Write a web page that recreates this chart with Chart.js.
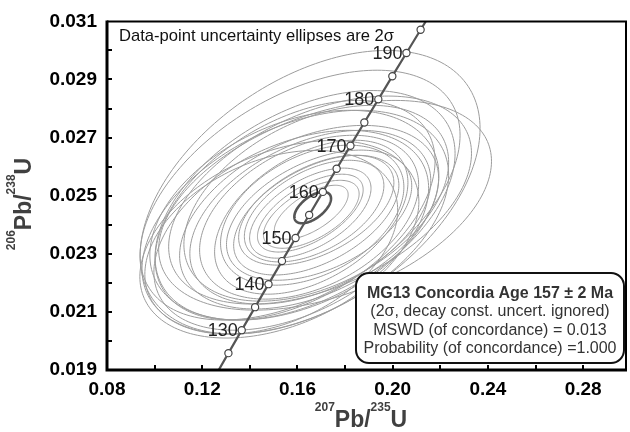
<!DOCTYPE html>
<html>
<head>
<meta charset="utf-8">
<script src="https://cdn.jsdelivr.net/npm/chart.js@4.4.1/dist/chart.umd.min.js"></script>
<style>
  html, body { margin: 0; padding: 0; background: #ffffff; }
  #wrap { width: 630px; height: 432px; }
</style>
</head>
<body>
<div id="wrap"><canvas id="c" width="630" height="432"></canvas></div>
<script>
// ---------- data ----------
// data-point 2-sigma ellipses: 207Pb/235U, 206Pb/238U, 2s half-extents, error correlation
const ellipseX    = [0.1653, 0.1716, 0.1695, 0.1679, 0.1587, 0.1654, 0.1649, 0.1658, 0.1649, 0.1654, 0.1654, 0.1658, 0.1670, 0.1679, 0.1658, 0.1691, 0.1679, 0.1662, 0.1524, 0.1490, 0.1574, 0.1591, 0.1611, 0.1632, 0.1590];
const ellipseY    = [0.02512, 0.02467, 0.02485, 0.02474, 0.02433, 0.02426, 0.02426, 0.02426, 0.02426, 0.02440, 0.02440, 0.02436, 0.02447, 0.02450, 0.02443, 0.02433, 0.02433, 0.02433, 0.02350, 0.02340, 0.02381, 0.02409, 0.02502, 0.02467, 0.02450];
const ellipseErrX = [0.0714, 0.0699, 0.0636, 0.0556, 0.0607, 0.0506, 0.0460, 0.0406, 0.0544, 0.0255, 0.0222, 0.0201, 0.0293, 0.0326, 0.0155, 0.0389, 0.0347, 0.0385, 0.0586, 0.0531, 0.0577, 0.0644, 0.0672, 0.0630, 0.0588];
const ellipseErrY = [0.00488, 0.00361, 0.00358, 0.00337, 0.00361, 0.00299, 0.00282, 0.00265, 0.00316, 0.00155, 0.00134, 0.00117, 0.00175, 0.00189, 0.00093, 0.00224, 0.00206, 0.00241, 0.00340, 0.00316, 0.00344, 0.00385, 0.00430, 0.00395, 0.00378];
const ellipseRho  = [0.45, 0.42, 0.45, 0.42, 0.38, 0.42, 0.40, 0.45, 0.42, 0.55, 0.60, 0.60, 0.50, 0.50, 0.65, 0.45, 0.50, 0.40, 0.38, 0.35, 0.42, 0.42, 0.48, 0.45, 0.45];

// concordia age ellipse (157 Ma)
const ageEllipseX = 0.1664, ageEllipseY = 0.02459, ageEllipseErrX = 0.0077, ageEllipseErrY = 0.00054, ageEllipseRho = 0.58;

// concordia curve points (Ma)
const concordiaAges = [120, 125, 130, 135, 140, 145, 150, 155, 160, 165, 170, 175, 180, 185, 190, 195, 200];
const concordiaX = [0.12545, 0.13100, 0.13659, 0.14220, 0.14784, 0.15350, 0.15920, 0.16492, 0.17067, 0.17645, 0.18226, 0.18809, 0.19396, 0.19985, 0.20577, 0.21173, 0.21771];
const concordiaY = [0.018789, 0.019580, 0.020371, 0.021163, 0.021955, 0.022748, 0.023542, 0.024335, 0.025131, 0.025926, 0.026722, 0.027519, 0.028316, 0.029114, 0.029913, 0.030712, 0.031511];
const markedAges = [125, 130, 135, 140, 145, 150, 155, 160, 165, 170, 175, 180, 185, 190, 195];
const labelledAges = [130, 140, 150, 160, 170, 180, 190];

// axes
const xTickValues = [0.08, 0.12, 0.16, 0.20, 0.24, 0.28];
const xTickLabels = ['0.08', '0.12', '0.16', '0.20', '0.24', '0.28'];
const xMinorTicks = [0.10, 0.12, 0.14, 0.16, 0.18, 0.20, 0.22, 0.24, 0.26, 0.28];
const yTickValues = [0.019, 0.021, 0.023, 0.025, 0.027, 0.029, 0.031];
const yTickLabels = ['0.019', '0.021', '0.023', '0.025', '0.027', '0.029', '0.031'];
const yMinorTicks = [0.020, 0.021, 0.022, 0.023, 0.024, 0.025, 0.026, 0.027, 0.028, 0.029, 0.030];

const noteText = 'Data-point uncertainty ellipses are 2\u03c3';
const boxLines = ['MG13 Concordia Age 157 \u00b1 2 Ma', '(2\u03c3, decay const. uncert. ignored)', 'MSWD (of concordance) = 0.013', 'Probability (of concordance) =1.000'];

// ---------- drawing helpers ----------
function drawEllipse(ctx, xs, ys, cx, cy, ex, ey, rho, color, width) {
  const phi = Math.acos(rho);
  ctx.beginPath();
  const n = 200;
  for (let k = 0; k <= n; k++) {
    const t = k / n * Math.PI * 2;
    const px = xs.getPixelForValue(cx + ex * Math.cos(t));
    const py = ys.getPixelForValue(cy + ey * Math.cos(t - phi));
    if (k === 0) ctx.moveTo(px, py); else ctx.lineTo(px, py);
  }
  ctx.closePath();
  ctx.strokeStyle = color;
  ctx.lineWidth = width;
  ctx.stroke();
}

function drawSupText(ctx, parts, cx, baseY, mainSize, supSize, supRise, color) {
  const mainFont = 'bold ' + mainSize + 'px "Liberation Sans", Arial, sans-serif';
  const supFont = 'bold ' + supSize + 'px "Liberation Sans", Arial, sans-serif';
  let total = 0;
  const widths = parts.map(p => { ctx.font = p[1] ? supFont : mainFont; const w = ctx.measureText(p[0]).width; total += w; return w; });
  let x = cx - total / 2;
  ctx.fillStyle = color;
  ctx.textAlign = 'left';
  ctx.textBaseline = 'alphabetic';
  parts.forEach((p, i) => {
    ctx.font = p[1] ? supFont : mainFont;
    ctx.fillText(p[0], x, p[1] ? baseY - supRise : baseY);
    x += widths[i];
  });
}

function roundRect(ctx, x, y, w, h, r) {
  ctx.beginPath();
  ctx.moveTo(x + r, y);
  ctx.lineTo(x + w - r, y);
  ctx.arcTo(x + w, y, x + w, y + r, r);
  ctx.lineTo(x + w, y + h - r);
  ctx.arcTo(x + w, y + h, x + w - r, y + h, r);
  ctx.lineTo(x + r, y + h);
  ctx.arcTo(x, y + h, x, y + h - r, r);
  ctx.lineTo(x, y + r);
  ctx.arcTo(x, y, x + r, y, r);
  ctx.closePath();
}

const concordiaPlugin = {
  id: 'concordiaExtras',
  beforeDatasetsDraw(chart) {
    const { ctx, chartArea: a, scales: { x, y } } = chart;
    ctx.save();
    ctx.beginPath();
    ctx.rect(a.left, a.top, a.right - a.left, a.bottom - a.top);
    ctx.clip();
    for (let i = 0; i < ellipseX.length; i++) {
      drawEllipse(ctx, x, y, ellipseX[i], ellipseY[i], ellipseErrX[i], ellipseErrY[i], ellipseRho[i], '#9c9c9c', 1);
    }
    drawEllipse(ctx, x, y, ageEllipseX, ageEllipseY, ageEllipseErrX, ageEllipseErrY, ageEllipseRho, '#555555', 2.6);
    ctx.restore();
  },
  afterDatasetsDraw(chart) {
    const { ctx, scales: { x, y } } = chart;
    ctx.save();
    ctx.font = '18px "Liberation Sans", Arial, sans-serif';
    ctx.fillStyle = '#222222';
    ctx.textAlign = 'right';
    ctx.textBaseline = 'middle';
    labelledAges.forEach(age => {
      const i = concordiaAges.indexOf(age);
      const px = x.getPixelForValue(concordiaX[i]);
      const py = y.getPixelForValue(concordiaY[i]);
      ctx.fillText(String(age), px - 4, py + 1);
    });
    ctx.restore();
  },
  afterDraw(chart) {
    const { ctx, chartArea: a, scales: { x, y } } = chart;
    ctx.save();
    // tick marks (inward)
    ctx.strokeStyle = '#000';
    ctx.lineWidth = 2;
    ctx.beginPath();
    yMinorTicks.forEach(v => { const py = Math.round(y.getPixelForValue(v)); ctx.moveTo(a.left, py); ctx.lineTo(a.left + 5, py); });
    xMinorTicks.forEach(v => { const px = Math.round(x.getPixelForValue(v)); ctx.moveTo(px, a.bottom); ctx.lineTo(px, a.bottom - 5); });
    ctx.stroke();
    // frame
    ctx.lineWidth = 2;
    ctx.beginPath();
    ctx.moveTo(a.left, a.top); ctx.lineTo(a.right, a.top); ctx.lineTo(a.right, a.bottom);
    ctx.stroke();
    ctx.lineWidth = 3;
    ctx.beginPath();
    ctx.moveTo(a.left, a.top - 1); ctx.lineTo(a.left, a.bottom); ctx.lineTo(a.right + 1, a.bottom);
    ctx.stroke();

    // note
    ctx.font = '16.6px "Liberation Sans", Arial, sans-serif';
    ctx.fillStyle = '#111';
    ctx.textAlign = 'left';
    ctx.textBaseline = 'alphabetic';
    ctx.fillText(noteText, a.left + 12, 41);

    // result box
    const bx = 356, by = 273, bw = 268, bh = 90;
    roundRect(ctx, bx, by, bw, bh, 13);
    ctx.fillStyle = '#ffffff';
    ctx.fill();
    ctx.lineWidth = 2;
    ctx.strokeStyle = '#111';
    ctx.stroke();
    ctx.fillStyle = '#333';
    ctx.textAlign = 'center';
    boxLines.forEach((t, i) => {
      ctx.font = (i === 0 ? 'bold ' : '') + '16px "Liberation Sans", Arial, sans-serif';
      ctx.fillText(t, bx + bw / 2, 297.5 + i * 18.5);
    });

    // axis titles
    drawSupText(ctx, [['207', true], ['Pb/', false], ['235', true], ['U', false]], 361, 427, 23, 12, 16, '#404040');
    ctx.translate(31, 204);
    ctx.rotate(-Math.PI / 2);
    drawSupText(ctx, [['206', true], ['Pb/', false], ['238', true], ['U', false]], 0, 0, 23, 12, 16, '#404040');
    ctx.restore();
  }
};

const lineData = concordiaAges.map((a, i) => ({ x: concordiaX[i], y: concordiaY[i] }));
const pointRadii = concordiaAges.map(a => markedAges.includes(a) ? 3.6 : 0);

new Chart(document.getElementById('c'), {
  type: 'scatter',
  data: {
    datasets: [{
      data: lineData,
      showLine: true,
      borderColor: '#555555',
      borderWidth: 2.2,
      pointRadius: pointRadii,
      pointBackgroundColor: '#ffffff',
      pointBorderColor: '#444444',
      pointBorderWidth: 1.2,
      tension: 0
    }]
  },
  options: {
    responsive: false,
    animation: false,
    layout: { padding: { top: 21, right: 4, left: 0, bottom: 0 } },
    plugins: { legend: { display: false }, tooltip: { enabled: false } },
    scales: {
      x: {
        type: 'linear',
        min: 0.08,
        max: 0.298,
        afterBuildTicks: s => { s.ticks = xTickValues.map(v => ({ value: v })); },
        afterFit: s => { s.height = 62; },
        grid: { display: false, drawTicks: false },
        border: { display: false },
        ticks: {
          autoSkip: false,
          maxRotation: 0,
          padding: 8,
          color: '#000',
          font: { family: '"Liberation Sans", Arial, sans-serif', size: 19, weight: 'bold' },
          callback: (v) => { const i = xTickValues.findIndex(t => Math.abs(t - v) < 1e-9); return i >= 0 ? xTickLabels[i] : ''; }
        }
      },
      y: {
        type: 'linear',
        min: 0.019,
        max: 0.031,
        afterBuildTicks: s => { s.ticks = yTickValues.map(v => ({ value: v })); },
        afterFit: s => { s.width = 107; },
        grid: { display: false, drawTicks: false },
        border: { display: false },
        ticks: {
          autoSkip: false,
          padding: 10,
          color: '#000',
          font: { family: '"Liberation Sans", Arial, sans-serif', size: 19, weight: 'bold' },
          callback: (v) => { const i = yTickValues.findIndex(t => Math.abs(t - v) < 1e-9); return i >= 0 ? yTickLabels[i] : ''; }
        }
      }
    }
  },
  plugins: [concordiaPlugin]
});
</script>
</body>
</html>
